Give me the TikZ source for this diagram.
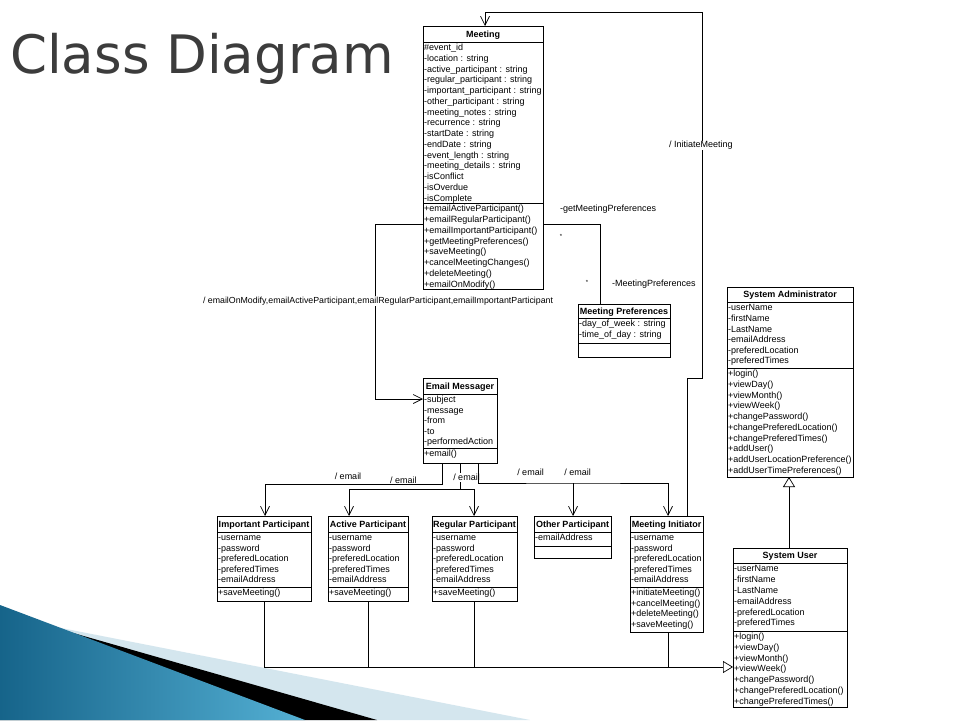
\documentclass[tikz,border=0pt]{standalone}
\usepackage{fontspec}
\setmainfont{Liberation Sans}
\newfontfamily\titlefont{DejaVu Sans}
\usetikzlibrary{arrows.meta}
\definecolor{titlegray}{RGB}{60,60,60}
\definecolor{wedgedark}{RGB}{22,100,138}
\definecolor{wedgelight}{RGB}{84,176,212}
\definecolor{wedgepale}{RGB}{212,230,238}
\newcommand\umlcomp[5]{\node[comp, font={\fontsize{9}{#4}\selectfont}] (#1) at (#2,#3) {\rule{0pt}{8.6pt}#5};}
\begin{document}
\begin{tikzpicture}[x=1pt,y=-1pt,
  cls/.style={draw, line width=0.7pt, fill=white, rectangle, inner sep=0pt, outer sep=0pt, anchor=north west},
  ctitle/.style={font=\bfseries\fontsize{9}{10}\selectfont, inner sep=0pt, anchor=base},
  comp/.style={inner sep=0pt, anchor=north west, align=left},
  conn/.style={line width=0.7pt},
  nav/.style={conn, -{Straight Barb[length=9pt,width=9pt]}},
  gen/.style={conn, -{Triangle[length=10pt,width=12pt,fill=white]}},
  lbl/.style={font=\fontsize{9}{10}\selectfont, inner sep=0.8pt},
  lblw/.style={lbl, fill=white}]
\fill[white] (0,0) rectangle (960,720);
\useasboundingbox (0,0) rectangle (960,720);
% decoration
\fill[wedgepale] (0,616) -- (530,720) -- (0,720) -- cycle;
\fill[black] (0,612) -- (377,720) -- (0,720) -- cycle;
\shade[left color=wedgedark, right color=wedgelight] (0,605) -- (305,720) -- (0,720) -- cycle;
% title
\node[anchor=base west, inner sep=0pt, text=titlegray, font={\titlefont\fontsize{53}{60}\selectfont}] (title) at (10,73) {Class Diagram};

% ---- Meeting
\node[cls, minimum width=120pt, minimum height=263pt] (meeting) at (423,26) {};
\draw[conn] (meeting.west |- 0,42) -- (meeting.east |- 0,42);
\draw[conn] (meeting.west |- 0,203) -- (meeting.east |- 0,203);
\node[ctitle] (meeting-t) at (483,37.3) {Meeting};
\umlcomp{meeting-a}{424}{42}{10.73}{\#event\_id\\-location : string\\-active\_participant : string\\-regular\_participant : string\\-important\_participant : string\\-other\_participant : string\\-meeting\_notes : string\\-recurrence : string\\-startDate : string\\-endDate : string\\-event\_length : string\\-meeting\_details : string\\-isConflict\\-isOverdue\\-isComplete}
\umlcomp{meeting-m}{424}{203}{10.75}{+emailActiveParticipant()\\+emailRegularParticipant()\\+emailImportantParticipant()\\+getMeetingPreferences()\\+saveMeeting()\\+cancelMeetingChanges()\\+deleteMeeting()\\+emailOnModify()}

% ---- Meeting Preferences
\node[cls, minimum width=92pt, minimum height=53pt] (mp) at (578,304) {};
\draw[conn] (mp.west |- 0,318) -- (mp.east |- 0,318);
\draw[conn] (mp.west |- 0,343) -- (mp.east |- 0,343);
\node[ctitle] (mp-t) at (624,314.3) {Meeting Preferences};
\umlcomp{mp-a}{579}{318}{10.2}{-day\_of\_week : string\\-time\_of\_day : string}

% ---- Email Messager
\node[cls, minimum width=74pt, minimum height=85pt] (em) at (423,378) {};
\draw[conn] (em.west |- 0,394) -- (em.east |- 0,394);
\draw[conn] (em.west |- 0,448) -- (em.east |- 0,448);
\node[ctitle] (em-t) at (460,389.3) {Email Messager};
\umlcomp{em-a}{424}{394}{10.4}{-subject\\-message\\-from\\-to\\-performedAction}
\umlcomp{em-m}{424}{448}{10.4}{+email()}

% ---- Important Participant
\node[cls, minimum width=94pt, minimum height=85pt] (ip) at (217,516) {};
\draw[conn] (ip.west |- 0,532) -- (ip.east |- 0,532);
\draw[conn] (ip.west |- 0,587) -- (ip.east |- 0,587);
\node[ctitle] (ip-t) at (264,527.3) {Important Participant};
\umlcomp{ip-a}{218}{532}{10.5}{-username\\-password\\-preferedLocation\\-preferedTimes\\-emailAddress}
\umlcomp{ip-m}{218}{587}{10.5}{+saveMeeting()}

% ---- Active Participant
\node[cls, minimum width=80pt, minimum height=85pt] (ap) at (328,516) {};
\draw[conn] (ap.west |- 0,532) -- (ap.east |- 0,532);
\draw[conn] (ap.west |- 0,587) -- (ap.east |- 0,587);
\node[ctitle] (ap-t) at (368,527.3) {Active Participant};
\umlcomp{ap-a}{329}{532}{10.5}{-username\\-password\\-preferedLocation\\-preferedTimes\\-emailAddress}
\umlcomp{ap-m}{329}{587}{10.5}{+saveMeeting()}

% ---- Regular Participant
\node[cls, minimum width=85pt, minimum height=85pt] (rp) at (432,516) {};
\draw[conn] (rp.west |- 0,532) -- (rp.east |- 0,532);
\draw[conn] (rp.west |- 0,587) -- (rp.east |- 0,587);
\node[ctitle] (rp-t) at (474.5,527.3) {Regular Participant};
\umlcomp{rp-a}{433}{532}{10.5}{-username\\-password\\-preferedLocation\\-preferedTimes\\-emailAddress}
\umlcomp{rp-m}{433}{587}{10.5}{+saveMeeting()}

% ---- Other Participant
\node[cls, minimum width=77pt, minimum height=42pt] (op) at (534,516) {};
\draw[conn] (op.west |- 0,532) -- (op.east |- 0,532);
\draw[conn] (op.west |- 0,546) -- (op.east |- 0,546);
\node[ctitle] (op-t) at (572.5,527.3) {Other Participant};
\umlcomp{op-a}{535}{532}{10.5}{-emailAddress}

% ---- Meeting Initiator
\node[cls, minimum width=73pt, minimum height=116pt] (mi) at (630,516) {};
\draw[conn] (mi.west |- 0,532) -- (mi.east |- 0,532);
\draw[conn] (mi.west |- 0,587) -- (mi.east |- 0,587);
\node[ctitle] (mi-t) at (666.5,527.3) {Meeting Initiator};
\umlcomp{mi-a}{631}{532}{10.5}{-username\\-password\\-preferedLocation\\-preferedTimes\\-emailAddress}
\umlcomp{mi-m}{631}{587}{10.5}{+initiateMeeting()\\+cancelMeeting()\\+deleteMeeting()\\+saveMeeting()}

% ---- System Administrator
\node[cls, minimum width=126pt, minimum height=190pt] (sa) at (727,287) {};
\draw[conn] (sa.west |- 0,302) -- (sa.east |- 0,302);
\draw[conn] (sa.west |- 0,368) -- (sa.east |- 0,368);
\node[ctitle] (sa-t) at (790,297.8) {System Administrator};
\umlcomp{sa-a}{728}{302}{10.6}{-userName\\-firstName\\-LastName\\-emailAddress\\-preferedLocation\\-preferedTimes}
\umlcomp{sa-m}{728}{368}{10.7}{+login()\\+viewDay()\\+viewMonth()\\+viewWeek()\\+changePassword()\\+changePreferedLocation()\\+changePreferedTimes()\\+addUser()\\+addUserLocationPreference()\\+addUserTimePreferences()}

% ---- System User
\node[cls, minimum width=114pt, minimum height=159pt] (su) at (733,548) {};
\draw[conn] (su.west |- 0,563) -- (su.east |- 0,563);
\draw[conn] (su.west |- 0,631) -- (su.east |- 0,631);
\node[ctitle] (su-t) at (790,558.8) {System User};
\umlcomp{su-a}{734}{563}{10.8}{-userName\\-firstName\\-LastName\\-emailAddress\\-preferedLocation\\-preferedTimes}
\umlcomp{su-m}{734}{631}{10.7}{+login()\\+viewDay()\\+viewMonth()\\+viewWeek()\\+changePassword()\\+changePreferedLocation()\\+changePreferedTimes()}

% ---- Connectors
% Meeting -> Email Messager
\draw[nav] (meeting.west |- 0,224) -- (375,224) -- (375,399) -- (em.west |- 0,399);
\node[lblw, anchor=west, font=\fontsize{8.8}{10}\selectfont] (lbl-mod) at (202,301) {/ emailOnModify,emailActiveParticipant,emailRegularParticipant,emailImportantParticipant};
% Meeting -> Meeting Preferences
\draw[conn] (meeting.east |- 0,224) -- (600,224) -- (mp.north -| 600,0);
\node[lbl, anchor=west] (lbl-gmp) at (559,209) {-getMeetingPreferences};
\node[lbl, font=\fontsize{6}{6}\selectfont] (lbl-s1) at (561,236) {*};
\node[lbl, font=\fontsize{6}{6}\selectfont] (lbl-s2) at (587,282) {*};
\node[lbl, anchor=west] (lbl-mpr) at (611,284) {-MeetingPreferences};
% Meeting Initiator -> Meeting
\draw[nav] (mi.north -| 687,0) -- (687,378) -- (702,378) -- (702,12) -- (485,12) -- (meeting.north -| 485,0);
\node[lblw, anchor=west] (lbl-init) at (668,145.5) {/ InitiateMeeting};
% Email Messager -> participants
\draw[nav] (em.south -| 442,0) -- (442,484) -- (265,484) -- (ip.north -| 265,0);
\node[lbl] (lbl-e1) at (348,476) {/ email};
\node[lbl, anchor=base west] (lbl-e2) at (389,483.5) {/ email};
\coordinate (split1) at (460,489);
\draw[nav] (em.south -| 460,0) -- (split1) -- (349,489) -- (ap.north -| 349,0);
\draw[nav] (split1) -- (474,489) -- (rp.north -| 474,0);
\node[lblw] (lbl-e3) at (466.5,477.5) {/ email};
\coordinate (split2) at (573,483);
\draw[nav] (em.south -| 478,0) -- (478,483) -- (split2) -- (668,483) -- (mi.north -| 668,0);
\draw[nav] (split2) -- (op.north -| 573,0);
\node[lbl] (lbl-e4) at (530.5,472) {/ email};
\node[lbl] (lbl-e5) at (577.5,472) {/ email};
% Generalizations to System User
\coordinate (j1) at (368,667);
\coordinate (j2) at (474,667);
\coordinate (j3) at (668,667);
\draw[gen] (ip.south -| 264,0) -- (264,667) -- (su.west |- 0,667);
\draw[conn] (ap.south -| 368,0) -- (j1);
\draw[conn] (rp.south -| 474,0) -- (j2);
\draw[conn] (mi.south -| 668,0) -- (j3);
% System User -> System Administrator
\draw[gen] (su.north -| 789,0) -- (sa.south -| 789,0);
\end{tikzpicture}
\end{document}
